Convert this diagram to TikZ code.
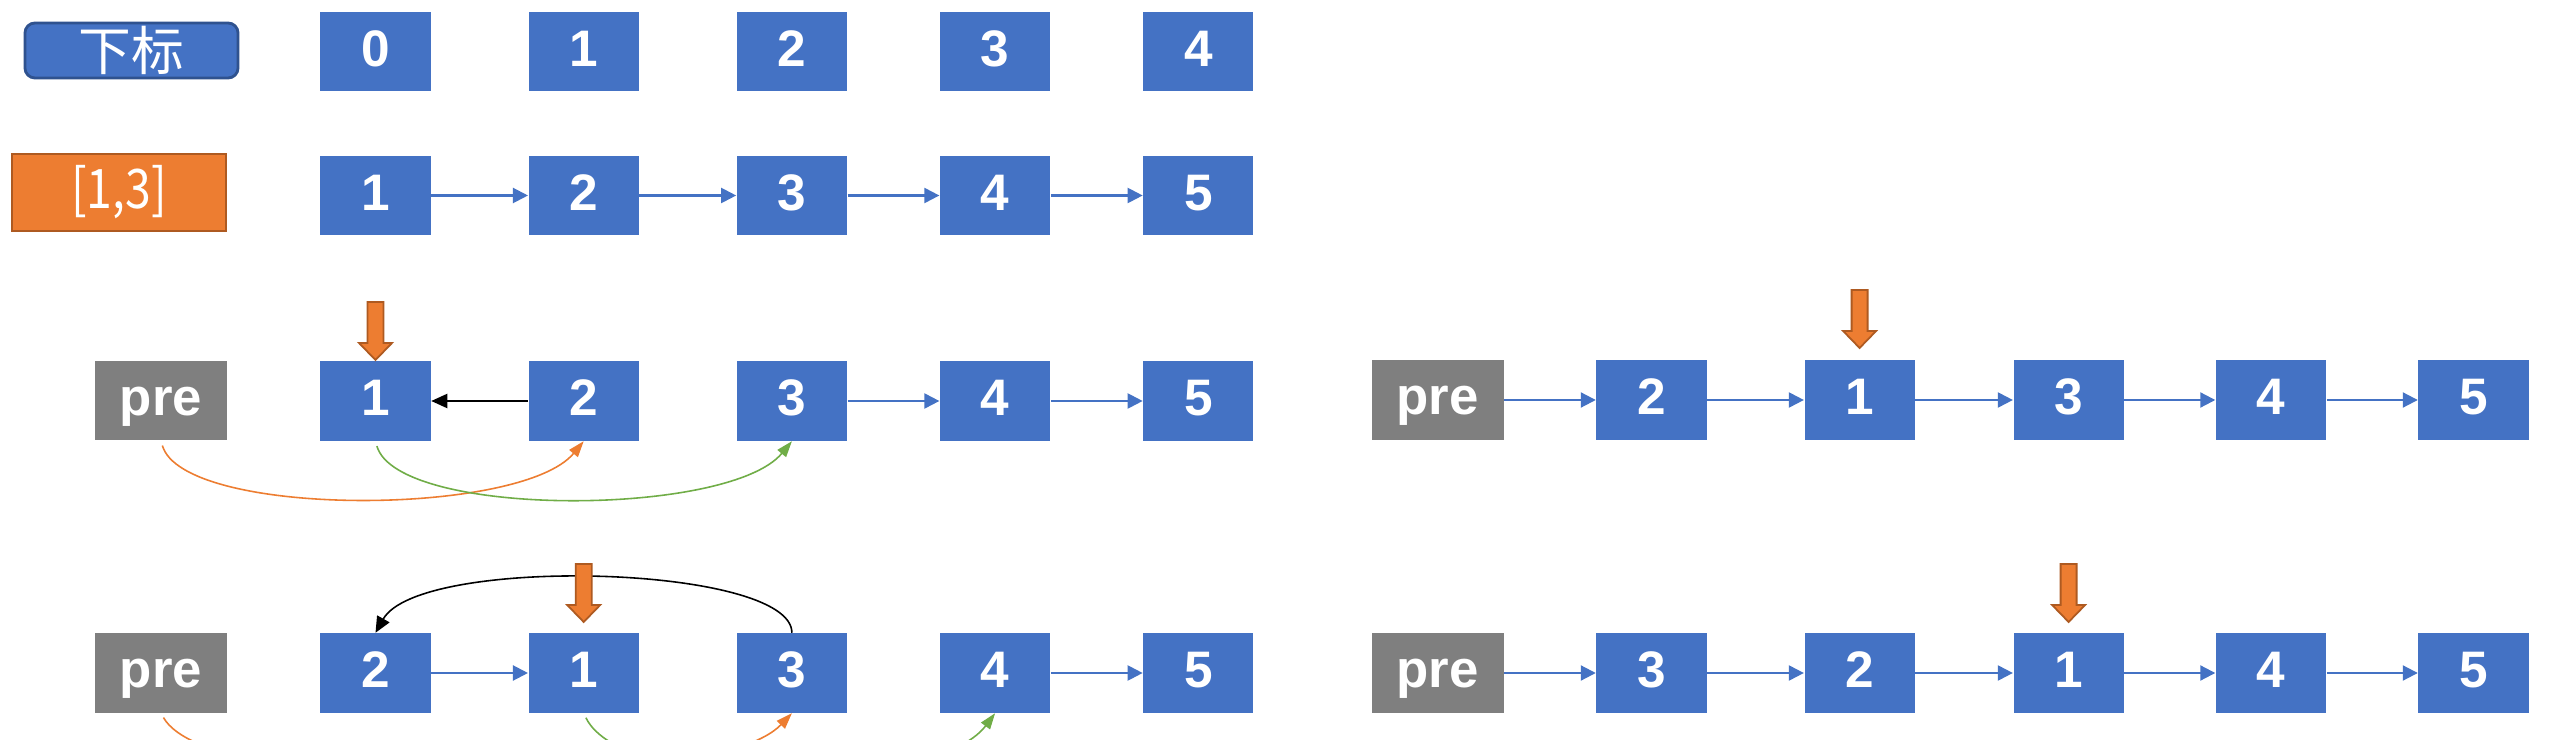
\documentclass[tikz,border=0pt]{standalone}
\usepackage{fontspec}
\usepackage{graphicx}
\setmainfont{Liberation Sans}
\newfontfamily\cjk{Noto Sans CJK SC}
\usetikzlibrary{arrows.meta}
\definecolor{nblue}{HTML}{4472C4}
\definecolor{nblueb}{HTML}{2F528F}
\definecolor{norange}{HTML}{ED7D31}
\definecolor{norangeb}{HTML}{AE5A21}
\definecolor{ngrey}{HTML}{7F7F7F}
\definecolor{ngreen}{HTML}{70AD47}
\newcommand{\ptrdown}[2]{\filldraw[ptr] (#1-8,#2-58) -- (#1+8,#2-58) -- (#1+8,#2-17) -- (#1+16.5,#2-17) -- (#1,#2) -- (#1-16.5,#2-17) -- (#1-8,#2-17) -- cycle;}
\begin{document}
\begin{tikzpicture}[x=0.01cm,y=-0.01cm,
 cell/.style={fill=nblue,minimum width=1.1cm,minimum height=0.79cm,inner sep=0pt,text=white,
   font=\bfseries\fontsize{14.6}{14.6}\selectfont,text height=0.84em,text depth=0pt},
 prebox/.style={fill=ngrey,minimum width=1.32cm,minimum height=0.79cm,inner sep=0pt,text=white,
   font=\bfseries\fontsize{15}{15}\selectfont,text height=0.84em,text depth=0pt},
 tagbox/.style={fill=nblue,draw=nblueb,line width=0.8pt,rounded corners=0.1cm,minimum width=2.13cm,
   minimum height=0.55cm,inner sep=0pt,text=white,font=\cjk\fontsize{15}{15}\selectfont},
 rangebox/.style={fill=norange,draw=norangeb,line width=0.8pt,minimum width=2.14cm,
   minimum height=0.77cm,inner sep=0pt,text=white,font=\cjk\fontsize{15.5}{15.5}\selectfont},
 link/.style={draw=nblue,line width=0.6pt,-{Triangle[length=0.15cm,width=0.15cm]}},
 back/.style={draw=black,line width=0.6pt,-{Triangle[length=0.16cm,width=0.14cm]}},
 ocurve/.style={draw=norange,line width=0.45pt,shorten <=0.05cm,-{Triangle[length=0.16cm,width=0.11cm]}},
 gcurve/.style={draw=ngreen,line width=0.45pt,shorten <=0.05cm,-{Triangle[length=0.16cm,width=0.11cm]}},
 ptr/.style={fill=norange,draw=norangeb,line width=0.5pt,line join=miter}
]
\clip (0,0) rectangle (2560,740);
\fill[white] (0,0) rectangle (2560,740);

% row 0
\node[tagbox] (lbl) at (131.5,50.5) {下标};
\node[cell] (i0) at (375.5,51.5) {0};
\node[cell] (i1) at (583.7,51.5) {1};
\node[cell] (i2) at (791.9,51.5) {2};
\node[cell] (i3) at (995.1,51.5) {3};
\node[cell] (i4) at (1198.4,51.5) {4};

% row 1
\node[rangebox] (rng) at (119,192.5) {\scalebox{0.85}[1]{[1,3]}};
\node[cell] (a1) at (375.5,195.5) {1};
\node[cell] (a2) at (583.7,195.5) {2};
\node[cell] (a3) at (791.9,195.5) {3};
\node[cell] (a4) at (995.1,195.5) {4};
\node[cell] (a5) at (1198.4,195.5) {5};
\draw[link] (a1.east) -- (a2.west);
\draw[link] (a2.east) -- (a3.west);
\draw[link] (a3.east) -- (a4.west);
\draw[link] (a4.east) -- (a5.west);

% row 2 left
\node[prebox] (p2) at (161,400.5) {pre};
\node[cell] (b1) at (375.5,401) {1};
\node[cell] (b2) at (583.7,401) {2};
\node[cell] (b3) at (791.9,401) {3};
\node[cell] (b4) at (995.1,401) {4};
\node[cell] (b5) at (1198.4,401) {5};
\draw[back] (b2.west) -- (b1.east);
\draw[link] (b3.east) -- (b4.west);
\draw[link] (b4.east) -- (b5.west);
\draw[ocurve] (p2.south) .. controls +(22,77) and +(-63,76) .. (b2.south);
\draw[gcurve] (b1.south) .. controls +(22,77) and +(-63,76) .. (b3.south);
\ptrdown{375.5}{360}

% row 2 right
\node[prebox] (q2) at (1437.6,400) {pre};
\node[cell] (c2) at (1651.5,400) {2};
\node[cell] (c1) at (1859.6,400) {1};
\node[cell] (c3) at (2068.6,400) {3};
\node[cell] (c4) at (2271,400) {4};
\node[cell] (c5) at (2473.5,400) {5};
\draw[link] (q2.east) -- (c2.west);
\draw[link] (c2.east) -- (c1.west);
\draw[link] (c1.east) -- (c3.west);
\draw[link] (c3.east) -- (c4.west);
\draw[link] (c4.east) -- (c5.west);
\ptrdown{1859.6}{348}

% row 3 left
\node[prebox] (p3) at (161,673) {pre};
\node[cell] (d2) at (375.5,673) {2};
\node[cell] (d1) at (583.7,673) {1};
\node[cell] (d3) at (791.9,673) {3};
\node[cell] (d4) at (995.1,673) {4};
\node[cell] (d5) at (1198.4,673) {5};
\draw[link] (d2.east) -- (d1.west);
\draw[link] (d4.east) -- (d5.west);
\draw[back,line width=0.45pt] (d3.north) .. controls +(0,-68) and +(44,-78) .. (d2.north);
\draw[ocurve] (p3.south) .. controls +(50,88) and +(-78,82) .. (d3.south);
\draw[gcurve] (d1.south) .. controls +(40,82) and +(-60,80) .. (d4.south);
\ptrdown{583.7}{622}

% row 3 right
\node[prebox] (q3) at (1437.6,673) {pre};
\node[cell] (e3) at (1651.5,673) {3};
\node[cell] (e2) at (1859.6,673) {2};
\node[cell] (e1) at (2068.6,673) {1};
\node[cell] (e4) at (2271,673) {4};
\node[cell] (e5) at (2473.5,673) {5};
\draw[link] (q3.east) -- (e3.west);
\draw[link] (e3.east) -- (e2.west);
\draw[link] (e2.east) -- (e1.west);
\draw[link] (e1.east) -- (e4.west);
\draw[link] (e4.east) -- (e5.west);
\ptrdown{2068.6}{622}
\end{tikzpicture}
\end{document}
